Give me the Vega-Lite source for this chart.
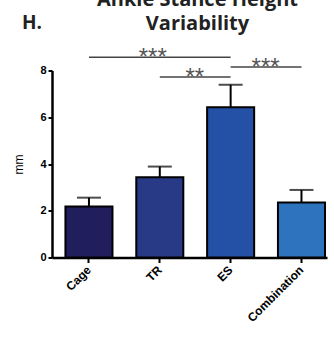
{
  "$schema": "https://vega.github.io/schema/vega-lite/v6.json",
  "width": 275,
  "height": 187,
  "autosize": {"type": "none"},
  "padding": {"left": 52, "top": 70.5, "right": 7, "bottom": 80.5},
  "background": "white",
  "config": {"view": {"stroke": null}, "font": "Liberation Sans"},
  "title": {
    "text": ["Ankle Stance Height", "Variability"],
    "font": "Open Sans",
    "fontSize": 20,
    "fontWeight": "bold",
    "color": "#222222",
    "lineHeight": 24,
    "anchor": "middle",
    "dx": 8,
    "offset": -20
  },
  "datasets": {
    "bars": [
      {"group": "Cage", "value": 2.18, "upper": 2.56},
      {"group": "TR", "value": 3.43, "upper": 3.89},
      {"group": "ES", "value": 6.43, "upper": 7.39},
      {"group": "Combination", "value": 2.35, "upper": 2.89}
    ],
    "sig": [
      {"from": "Cage", "to": "ES", "y": 8.57, "label": "***", "at": "TR", "kind": "over"},
      {"from": "TR", "to": "ES", "y": 7.72, "label": "**", "at": "TR", "kind": "between"},
      {"from": "ES", "to": "Combination", "y": 8.15, "label": "***", "at": "ES", "kind": "between"}
    ],
    "panel": [
      {"label": "H.", "at": "Cage", "y": 9.79}
    ]
  },
  "layer": [
    {
      "data": {"name": "bars"},
      "mark": {"type": "bar", "stroke": "black", "strokeWidth": 2},
      "encoding": {
        "x": {
          "field": "group",
          "type": "nominal",
          "scale": {"domain": ["Cage", "TR", "ES", "Combination"], "paddingInner": 0.336, "paddingOuter": 0.109, "align": 0.87},
          "axis": {
            "title": null,
            "labelAngle": -45,
            "labelAlign": "right",
            "labelBaseline": "middle",
            "labelFont": "Liberation Sans",
            "labelFontWeight": "bold",
            "labelFontSize": 12,
            "labelColor": "black",
            "labelPadding": 5,
            "tickColor": "black",
            "tickWidth": 2,
            "tickSize": 5,
            "domainColor": "black",
            "domainWidth": 2.5
          }
        },
        "y": {
          "field": "value",
          "type": "quantitative",
          "scale": {"domain": [0, 8], "nice": false},
          "axis": {
            "values": [0, 2, 4, 6, 8],
            "title": "mm",
            "grid": false,
            "domainColor": "black",
            "domainWidth": 2.5,
            "tickColor": "black",
            "tickWidth": 2,
            "tickSize": 4,
            "labelFont": "Liberation Sans",
            "labelFontWeight": "bold",
            "labelFontSize": 11,
            "labelColor": "black",
            "labelPadding": 2,
            "titleFont": "Liberation Sans",
            "titleFontWeight": "normal",
            "titleFontSize": 12,
            "titleColor": "black",
            "titlePadding": 14
          }
        },
        "color": {
          "field": "group",
          "type": "nominal",
          "scale": {
            "domain": ["Cage", "TR", "ES", "Combination"],
            "range": ["#201e5c", "#283a86", "#2451a6", "#2e73bd"]
          },
          "legend": null
        }
      }
    },
    {
      "data": {"name": "bars"},
      "mark": {"type": "rule", "color": "black", "strokeWidth": 2},
      "encoding": {
        "x": {"field": "group", "type": "nominal"},
        "y": {"field": "value", "type": "quantitative"},
        "y2": {"field": "upper"}
      }
    },
    {
      "data": {"name": "bars"},
      "mark": {"type": "tick", "color": "black", "thickness": 2, "size": 24},
      "encoding": {
        "x": {"field": "group", "type": "nominal"},
        "y": {"field": "upper", "type": "quantitative"}
      }
    },
    {
      "data": {"name": "sig"},
      "mark": {"type": "rule", "color": "#444444", "strokeWidth": 1.5},
      "encoding": {
        "x": {"field": "from", "type": "nominal"},
        "x2": {"field": "to"},
        "y": {"field": "y", "type": "quantitative"}
      }
    },
    {
      "data": {"name": "sig"},
      "transform": [{"filter": "datum.kind === 'over'"}],
      "mark": {"type": "text", "color": "#555555", "fontSize": 24, "font": "Liberation Sans", "baseline": "alphabetic", "align": "center", "dy": 8, "dx": -7},
      "encoding": {
        "x": {"field": "at", "type": "nominal"},
        "y": {"field": "y", "type": "quantitative"},
        "text": {"field": "label"}
      }
    },
    {
      "data": {"name": "sig"},
      "transform": [{"filter": "datum.kind === 'between'"}],
      "mark": {"type": "text", "color": "#555555", "fontSize": 24, "font": "Liberation Sans", "baseline": "alphabetic", "align": "center", "dy": 8, "dx": 35},
      "encoding": {
        "x": {"field": "at", "type": "nominal"},
        "y": {"field": "y", "type": "quantitative"},
        "text": {"field": "label"}
      }
    },
    {
      "data": {"name": "panel"},
      "mark": {"type": "text", "color": "#222222", "fontSize": 19, "fontWeight": "bold", "font": "Open Sans", "baseline": "alphabetic", "align": "center", "dx": -57},
      "encoding": {
        "x": {"field": "at", "type": "nominal"},
        "y": {"field": "y", "type": "quantitative"},
        "text": {"field": "label"}
      }
    }
  ]
}
